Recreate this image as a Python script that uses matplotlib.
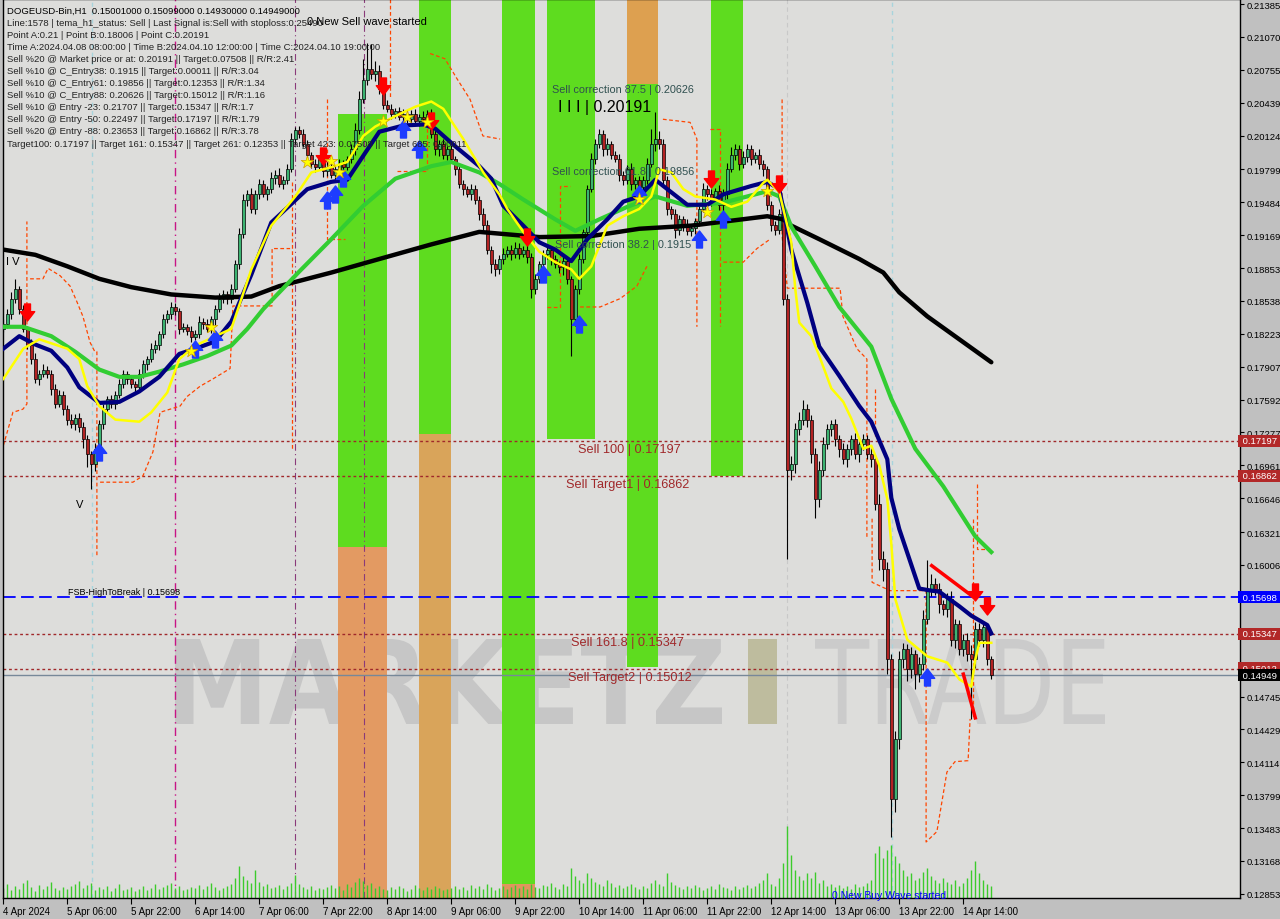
import numpy as np
import matplotlib.pyplot as plt
from matplotlib.collections import LineCollection
from matplotlib.textpath import TextPath
from matplotlib.patches import PathPatch
from matplotlib.font_manager import FontProperties
from matplotlib.transforms import Affine2D
from matplotlib.path import Path

# ---- hourly closes, DOGEUSD H1, from 4 Apr 14:00 (16 bars per row)
closes = np.array([
    .1832, .1841, .1856, .1865, .1846, .1827, .1812, .1798, .1779, .1784, .1788, .1784, .1769, .1755, .1764, .1750,
    .1740, .1736, .1742, .1733, .1721, .1707, .1697, .1712, .1736, .1750, .1760, .1755, .1764, .1774, .1784, .1779,
    .1774, .1771, .1784, .1793, .1798, .1808, .1812, .1822, .1836, .1841, .1848, .1844, .1827, .1829, .1825, .1819,
    .1822, .1834, .1832, .1827, .1836, .1846, .1856, .1860, .1856, .1865, .1889, .1918, .1951, .1956, .1942, .1956,
    .1966, .1956, .1961, .1972, .1975, .1966, .1970, .1980, .2009, .2018, .2014, .2004, .1994, .1985, .1982, .1990,
    .1978, .1982, .1975, .1980, .1985, .1982, .1990, .1999, .2018, .2047, .2066, .2076, .2071, .2074, .2057, .2042,
    .2038, .2033, .2036, .2030, .2033, .2028, .2033, .2026, .2030, .2028, .2033, .2014, .1999, .2004, .1994, .1999,
    .1990, .1980, .1966, .1961, .1956, .1961, .1951, .1937, .1927, .1903, .1889, .1884, .1894, .1899, .1903, .1899,
    .1905, .1899, .1903, .1896, .1865, .1875, .1889, .1899, .1903, .1894, .1889, .1886, .1892, .1875, .1836, .1865,
    .1894, .1920, .1961, .1990, .2004, .2014, .1999, .2004, .1994, .1990, .1975, .1970, .1980, .1966, .1970, .1963,
    .1970, .1985, .2004, .2009, .2004, .1970, .1942, .1937, .1922, .1932, .1927, .1921, .1924, .1930, .1942, .1961,
    .1956, .1951, .1959, .1946, .1956, .1980, .1994, .1999, .1985, .1992, .1999, .1990, .1994, .1985, .1980, .1946,
    .1927, .1922, .1937, .1856, .1692, .1697, .1731, .1740, .1750, .1740, .1707, .1664, .1692, .1717, .1731, .1736,
    .1721, .1712, .1702, .1712, .1721, .1707, .1717, .1721, .1707, .1702, .1659, .1606, .1597, .1510, .1376, .1434,
    .1510, .1520, .1501, .1515, .1496, .1506, .1549, .1578, .1582, .1578, .1563, .1558, .1568, .1529, .1544, .1520,
    .1529, .1515, .1510, .1539, .1529, .1541, .1510, .1495,
])
first_open = 0.1827

# wicks above / below the body, in 0.0001
upper_wick = np.array([
    4, 5, 6, 10, 3, 4, 3, 5, 6, 4, 5, 3, 4, 5, 4, 3,
    4, 5, 3, 4, 5, 4, 3, 6, 4, 5, 3, 4, 3, 5, 4, 3,
    4, 3, 5, 4, 3, 5, 4, 3, 5, 4, 5, 4, 3, 4, 3, 5,
    4, 5, 3, 4, 3, 4, 5, 4, 3, 5, 4, 6, 5, 4, 6, 4,
    5, 4, 3, 5, 4, 6, 4, 5, 6, 3, 4, 5, 4, 3, 5, 4,
    3, 5, 4, 3, 5, 4, 3, 5, 6, 8, 20, 25, 24, 10, 6, 5,
    4, 5, 3, 4, 5, 3, 4, 5, 3, 6, 4, 5, 6, 4, 5, 3,
    4, 3, 5, 4, 3, 5, 4, 3, 6, 4, 3, 5, 4, 6, 3, 4,
    5, 4, 3, 6, 4, 5, 3, 4, 5, 3, 4, 3, 5, 4, 3, 4,
    5, 3, 4, 6, 5, 5, 4, 6, 3, 4, 5, 3, 4, 6, 3, 4,
    4, 6, 15, 26, 8, 5, 4, 3, 5, 4, 3, 5, 4, 3, 5, 6,
    4, 5, 3, 6, 5, 6, 7, 5, 4, 6, 5, 4, 3, 5, 4, 3,
    4, 3, 5, 6, 4, 8, 6, 7, 9, 5, 4, 6, 8, 6, 5, 4,
    5, 4, 6, 5, 4, 6, 3, 5, 4, 6, 4, 10, 8, 6, 5, 7,
    8, 6, 5, 7, 4, 6, 8, 27, 10, 6, 5, 4, 6, 8, 5, 4,
    5, 6, 9, 7, 6, 5, 4, 3,
]) * 1e-4
lower_wick = np.array([
    3, 4, 5, 4, 5, 3, 4, 5, 4, 6, 3, 4, 5, 4, 3, 6,
    5, 4, 6, 5, 8, 12, 24, 6, 4, 5, 3, 4, 5, 3, 4, 5,
    4, 5, 3, 4, 5, 3, 4, 5, 4, 3, 5, 4, 5, 3, 4, 5,
    3, 4, 5, 3, 4, 5, 3, 4, 5, 4, 3, 5, 4, 6, 4, 5,
    4, 3, 5, 4, 6, 3, 5, 4, 3, 5, 4, 3, 6, 4, 5, 3,
    5, 4, 3, 5, 4, 6, 3, 4, 5, 4, 3, 5, 4, 6, 5, 4,
    3, 5, 4, 3, 5, 4, 6, 3, 4, 5, 3, 4, 5, 6, 4, 5,
    3, 5, 4, 6, 3, 5, 4, 6, 5, 4, 8, 6, 4, 5, 3, 6,
    4, 5, 3, 6, 8, 5, 4, 3, 5, 6, 4, 5, 7, 5, 35, 6,
    5, 4, 6, 3, 5, 4, 6, 5, 4, 3, 6, 5, 4, 6, 5, 4,
    5, 4, 3, 6, 5, 4, 6, 5, 8, 5, 6, 4, 5, 6, 4, 3,
    5, 6, 4, 5, 6, 4, 3, 5, 6, 4, 5, 6, 4, 5, 6, 5,
    6, 5, 4, 6, 86, 10, 8, 6, 5, 7, 9, 18, 8, 6, 5, 7,
    6, 8, 5, 7, 6, 5, 8, 6, 5, 7, 6, 10, 12, 14, 36, 12,
    10, 8, 12, 9, 14, 8, 6, 5, 7, 6, 8, 5, 7, 6, 8, 6,
    7, 6, 57, 8, 6, 7, 5, 4,
]) * 1e-4

# tick volume (hundreds)
volumes = np.array([
    10, 14, 8, 12, 9, 15, 18, 11, 7, 13, 9, 12, 16, 10, 8, 11,
    9, 12, 14, 17, 10, 13, 15, 8, 11, 9, 12, 7, 10, 14, 8, 9,
    11, 7, 9, 12, 8, 10, 14, 9, 11, 13, 15, 10, 12, 8, 9, 11,
    10, 13, 9, 12, 15, 11, 8, 10, 12, 14, 20, 32, 22, 18, 15, 28,
    16, 12, 14, 10, 11, 13, 9, 12, 15, 23, 14, 11, 9, 12, 8, 10,
    9, 11, 13, 10, 12, 8, 14, 11, 16, 20, 17, 13, 15, 10, 12, 9,
    8, 11, 9, 12, 10, 7, 9, 13, 10, 8, 11, 9, 12, 10, 8, 9,
    10, 12, 9, 11, 8, 13, 10, 12, 9, 14, 11, 8, 10, 12, 9, 11,
    13, 10, 12, 9, 14, 11, 10, 13, 12, 15, 11, 9, 14, 12, 30, 22,
    18, 15, 25, 20, 16, 14, 12, 18, 15, 11, 13, 10, 12, 14, 11, 9,
    12, 10, 15, 18, 14, 12, 25, 16, 13, 11, 9, 12, 10, 13, 11, 8,
    10, 12, 9, 14, 11, 10, 8, 12, 9, 11, 13, 10, 12, 15, 18, 25,
    14, 12, 20, 35, 72, 43, 28, 22, 18, 25, 20, 26, 15, 18, 12, 14,
    11, 13, 10, 12, 9, 14, 11, 12, 15, 18, 45, 52, 40, 48, 53, 42,
    35, 28, 22, 25, 18, 20, 26, 30, 22, 18, 15, 20, 16, 14, 18, 12,
    15, 20, 28, 37, 25, 18, 14, 12,
])

# moving averages read at some bars
ma200_bars = [0, 8, 16, 24, 32, 42, 53, 62, 69, 82, 94, 107, 119, 134, 147, 159, 172, 191, 195, 197,
              204, 214, 220, 224, 231, 239, 247]
ma200 = [.1903, .1898, .1887, .1875, .1867, .1860, .1857, .1858, .1868, .1881, .1894, .1908, .1920, .1915,
         .1916, .1923, .1926, .1935, .1932, .1926, .1913, .1894, .1881, .1862, .1839, .1817, .1795]
ma50_bars = [0, 5, 12, 18, 24, 29, 34, 39, 45, 51, 57, 61, 65, 74, 82, 90, 98, 107, 112, 119,
             124, 130, 138, 143, 149, 156, 163, 171, 180, 191, 194, 197, 203, 209, 217, 222, 228, 235, 243, 247]
ma50 = [.1829, .1829, .1820, .1805, .1788, .1781, .1781, .1786, .1793, .1801, .1811, .1827, .1846, .1882,
        .1913, .1945, .1971, .1983, .1987, .1977, .1966, .1951, .1932, .1921, .1932, .1944, .1954, .1945,
        .1948, .1959, .1954, .1925, .1887, .1848, .1810, .1760, .1712, .1676, .1628, .1613]
ma21_bars = [0, 4, 8, 12, 16, 19, 24, 29, 34, 39, 44, 48, 53, 57, 58, 62, 67, 76, 82, 86,
             90, 94, 100, 105, 108, 113, 119, 122, 125, 130, 134, 138, 142, 146, 151, 155, 159, 163, 167, 171,
             176, 180, 187, 191, 194, 197, 201, 204, 209, 214, 217, 221, 222, 224, 229, 232, 234, 239, 242, 246, 247]
ma21 = [.1808, .1820, .1812, .1806, .1790, .1771, .1756, .1757, .1767, .1781, .1803, .1808, .1815, .1834,
        .1843, .1879, .1929, .1961, .1968, .1970, .1993, .2016, .2022, .2023, .2019, .2002, .1983, .1971,
        .1945, .1926, .1910, .1903, .1892, .1913, .1932, .1949, .1954, .1970, .1958, .1946, .1946, .1956,
        .1964, .1968, .1961, .1903, .1852, .1810, .1782, .1753, .1738, .1702, .1665, .1635, .1578, .1576,
        .1575, .1561, .1552, .1543, .1535]
tema_bars = [0, 5, 9, 16, 19, 21, 24, 28, 34, 37, 41, 44, 48, 53, 57, 62, 67, 73, 77, 82,
             86, 90, 93, 98, 103, 107, 110, 115, 120, 124, 126, 130, 134, 138, 142, 144, 147, 151, 155, 159,
             162, 164, 167, 170, 173, 178, 182, 186, 190, 191, 194, 197, 198, 199, 202, 204, 207, 210, 212, 215,
             217, 219, 221, 222, 223, 226, 231, 236, 239, 242, 243, 244, 247]
tema = [.1779, .1808, .1817, .1808, .1798, .1772, .1753, .1740, .1738, .1747, .1766, .1798, .1811, .1820,
        .1827, .1884, .1926, .1954, .1977, .1982, .1987, .2012, .2021, .2031, .2040, .2045, .2038, .2009,
        .1977, .1956, .1942, .1920, .1901, .1891, .1884, .1875, .1887, .1926, .1935, .1942, .1954, .1980,
        .1977, .1961, .1954, .1951, .1944, .1949, .1967, .1970, .1958, .1910, .1865, .1833, .1820, .1801,
        .1770, .1757, .1741, .1712, .1715, .1696, .1664, .1621, .1568, .1529, .1513, .1507, .1491, .1484,
        .1510, .1526, .1526]

# stop / envelope step lines (dashed orange), one pair of lists per piece
stop_bars = [
    [0, 2.4, 4.9, 5.9, 5.9],
    [6.7, 9.9, 11.2, 14.2, 16.7, 18.4, 19.9, 21.7, 22.9, 23.4, 23.4],
    [24.2, 32.4, 34.9, 37.4, 39.2, 44.2, 45.9, 49.2, 52.4, 56.7, 57.4, 67.2, 67.2, 71.7],
    [72.2, 72.2],
    [80.9, 80.9, 85.4],
    [96.7, 96.7],
    [106.7, 110.4, 113.4, 116.7, 119.9, 124.2],
    [98.4, 105.9, 105.9],
    [135.9, 139.2, 139.2, 141.7],
    [144.2, 149.2, 154.2, 158.4, 160.9],
    [164.9, 171.7, 173.4, 173.4],
    [176.7, 179.2, 179.2],
    [180.0, 185.0, 188.4, 191.7],
    [194.7, 194.7, 196.0, 209.2, 209.9, 213.4, 215.9, 215.9],
    [217.9, 217.9],
    [217.2, 217.2, 221.7, 230.7, 230.7, 233.4, 235.9, 237.9, 241.2, 241.7],
    [242.4, 242.4],
    [243.4, 243.4, 246.7],
]
stop_prices = [
    [.1715, .1747, .1750, .1755, .1930],
    [.1875, .1875, .1885, .1878, .1868, .1853, .1839, .1814, .1805, .1805, .1609],
    [.1680, .1680, .1686, .1709, .1747, .1753, .1762, .1772, .1779, .1789, .1849, .1849, .1904, .1904],
    [.1968, .1712],
    [.2047, .1913, .1913],
    [.2150, .2047],
    [.2091, .2086, .2067, .2047, .2012, .2009],
    [.1978, .1978, .2028],
    [.1848, .1848, .1964, .1964],
    [.1848, .1848, .1856, .1868, .1887],
    [.2028, .2025, .2009, .1829],
    [.2019, .2019, .1830],
    [.1891, .1891, .1904, .1913],
    [.2047, .1916, .1866, .1866, .1839, .1808, .1798, .1626],
    [.1769, .1724],
    [.1645, .1584, .1576, .1576, .1335, .1345, .1402, .1412, .1413, .1453],
    [.1645, .1453],
    [.1678, .1616, .1616],
]

# signals
sell_bars = [6, 80, 95, 107, 131, 177, 194, 243, 246]
sell_prices = [.1843, .1993, .2060, .2026, .1915, .1971, .1966, .1575, .1561]
buy_bars = [24, 48, 53, 81, 83, 85, 100, 104, 135, 144, 159, 174, 180, 231]
buy_prices = [.1709, .1808, .1817, .1951, .1956, .1972, .2019, .1999, .1880, .1832, .1956, .1913, .1932, .1493]
star_bars = [47, 52, 76, 82, 84, 95, 101, 106, 159, 176, 191]
star_prices = [.1806, .1829, .1987, .1988, .1977, .2026, .2030, .2025, .1952, .1939, .1959]
trend_a_bars, trend_a = [232.1, 242.5], [.1600, .1570]
trend_b_bars, trend_b = [240.0, 243.0], [.1496, .1454]

# zones (bar from, bar to, price low, price high, colour)
zone_from = [83.7, 83.7, 103.9, 103.9, 124.7, 124.7, 135.9, 155.9, 155.9, 176.9]
zone_to = [95.9, 95.9, 111.9, 111.9, 132.9, 132.9, 147.9, 163.7, 163.7, 184.9]
zone_low = [.1618, .1200, .1726, .1200, .1295, .1200, .1721, .2062, .1503, .1686]
zone_high = [.2033, .1618, .2200, .1726, .2200, .1295, .2200, .2200, .2062, .2200]
zone_col = ['#5EDC1F', '#E39A62', '#5EDC1F', '#D9A45A', '#5EDC1F', '#E0955E', '#5EDC1F', '#DDA050',
            '#5EDC1F', '#5EDC1F']

time_labels = ["4 Apr 2024", "5 Apr 06:00", "5 Apr 22:00", "6 Apr 14:00", "7 Apr 06:00", "7 Apr 22:00",
               "8 Apr 14:00", "9 Apr 06:00", "9 Apr 22:00", "10 Apr 14:00", "11 Apr 06:00", "11 Apr 22:00",
               "12 Apr 14:00", "13 Apr 06:00", "13 Apr 22:00", "14 Apr 14:00"]
price_ticks = [0.21385, 0.21070, 0.20755, 0.20439, 0.20124, 0.19799, 0.19484, 0.19169, 0.18853, 0.18538,
               0.18223, 0.17907, 0.17592, 0.17277, 0.16961, 0.16646, 0.16321, 0.16006,
               0.15060, 0.14745, 0.14429, 0.14114, 0.13799, 0.13483, 0.13168, 0.12853]

info_lines = [
    "DOGEUSD-Bin,H1  0.15001000 0.15099000 0.14930000 0.14949000",
    "Line:1578 | tema_h1_status: Sell | Last Signal is:Sell with stoploss:0.25490",
    "Point A:0.21 | Point B:0.18006 | Point C:0.20191",
    "Time A:2024.04.08 08:00:00 | Time B:2024.04.10 12:00:00 | Time C:2024.04.10 19:00:00",
    "Sell %20 @ Market price or at: 0.20191 || Target:0.07508 || R/R:2.41",
    "Sell %10 @ C_Entry38: 0.1915 || Target:0.00011 || R/R:3.04",
    "Sell %10 @ C_Entry61: 0.19856 || Target:0.12353 || R/R:1.34",
    "Sell %10 @ C_Entry88: 0.20626 || Target:0.15012 || R/R:1.16",
    "Sell %10 @ Entry -23: 0.21707 || Target:0.15347 || R/R:1.7",
    "Sell %20 @ Entry -50: 0.22497 || Target:0.17197 || R/R:1.79",
    "Sell %20 @ Entry -88: 0.23653 || Target:0.16862 || R/R:3.78",
    "Target100: 0.17197 || Target 161: 0.15347 || Target 261: 0.12353 || Target 423: 0.07508 || Target 685: 0.00011",
]

# ------------------------------------------------------------------
opens = np.r_[first_open, closes[:-1]]
highs = np.maximum(opens, closes) + upper_wick
lows = np.minimum(opens, closes) - lower_wick
bars = np.arange(len(closes))

W, H = 1280, 920
fig = plt.figure(figsize=(W / 100, H / 100), dpi=100, facecolor='#C0C0C0')
ax = fig.add_axes([3 / W, 21 / H, 1237 / W, 899 / H])
ax.set_facecolor('#DDDDDB')
ax.set_xlim(-0.075, 309.175)
ax.set_ylim(0.12813, 0.21433)

# pixel helpers for placing annotations
px_i = lambda x: (x - 3.3) / 4
px_p = lambda y: 0.21433 - y / 10430
fx = lambda x: (x - 3) / 1237
fy = lambda y: 1 - y / 899

sans = ['Liberation Sans', 'DejaVu Sans']

# watermark
def watermark(txt, box, color, weight):
    fp = FontProperties(family='DejaVu Sans', weight=weight)
    tp = TextPath((0, 0), txt, prop=fp, size=1)
    ext = tp.get_extents()
    x0, y0, x1, y1 = box
    sx = (fx(x1) - fx(x0)) / ext.width
    sy = (fy(y0) - fy(y1)) / ext.height
    tr = Affine2D().translate(-ext.x0, -ext.y0).scale(sx, sy).translate(fx(x0), fy(y1)) + ax.transAxes
    ax.add_patch(PathPatch(tp, transform=tr, fc=color, ec='none', zorder=0.6))

watermark("MARKETZ", (175, 640, 722, 725), '#C6C6C6', 'bold')
watermark("I", (748, 640, 777, 725), '#BEBC9E', 'bold')
watermark("TRADE", (815, 640, 1105, 725), '#CBCBCB', 'normal')

# zones
for s, e, lo, hi, c in zip(zone_from, zone_to, zone_low, zone_high, zone_col):
    ax.bar((s + e) / 2, hi - lo, width=e - s, bottom=lo, color=c, linewidth=0, zorder=1)

# vertical markers
ax.axvline(px_i(92), color='#A8D4DC', lw=1, ls=(0, (3, 3)), zorder=1.5)
ax.axvline(px_i(175), color='#C71585', lw=1, ls=(0, (6, 3, 1, 3)), zorder=1.5)
ax.axvline(px_i(295), color='#8A3A7A', lw=0.8, ls=(0, (6, 3, 1, 3)), zorder=1.5)
ax.axvline(px_i(364), color='#8A3A7A', lw=0.8, ls=(0, (6, 3, 1, 3)), zorder=1.5)
ax.axvline(px_i(787), color='#C8C8C8', lw=0.8, ls=(0, (4, 3)), zorder=1.5)
ax.axvline(px_i(892), color='#A8D4DC', lw=1, ls=(0, (3, 3)), zorder=1.5)

# volume
segs = [[(b, 0), (b, v / 899)] for b, v in zip(bars, volumes)]
ax.add_collection(LineCollection(segs, colors='#3CCB2C', linewidths=1,
                                 transform=ax.get_xaxis_transform(), zorder=2))

# levels
for lvl in [0.17197, 0.16862, 0.15347, 0.15012]:
    ax.axhline(lvl, color='#A0282A', lw=1, ls=(0, (2, 2)), zorder=2.2)
ax.axhline(0.15698, color='#0000FF', lw=1.3, ls=(0, (7, 3)), zorder=2.2)
ax.axhline(0.14949, color='#778899', lw=1, zorder=2.2)

# stop lines
for sb, sp in zip(stop_bars, stop_prices):
    ax.plot(sb, sp, color='#FF4500', lw=0.9, ls=(0, (3, 2)), zorder=2.5)

# candles
up = closes >= opens
ax.vlines(bars, lows, highs, color='black', lw=0.8, zorder=3)
ax.bar(bars, np.maximum(np.abs(closes - opens), 0.00006), width=0.62, bottom=np.minimum(opens, closes),
       color=np.where(up, '#3CB371', '#B22222'), edgecolor='black', linewidth=0.5, zorder=3.1)

# averages
ax.plot(ma200_bars, ma200, color='black', lw=3.2, zorder=4, solid_capstyle='round')
ax.plot(ma50_bars, ma50, color='#32CD32', lw=3, zorder=4.1)
ax.plot(ma21_bars, ma21, color='#000080', lw=3, zorder=4.2)
ax.plot(tema_bars, tema, color='#FFFF00', lw=1.8, zorder=4.3)
ax.plot(trend_a_bars, trend_a, color='#FF0000', lw=2.5, zorder=4.4)
ax.plot(trend_b_bars, trend_b, color='#FF0000', lw=2.5, zorder=4.4)

# arrows / stars
down_arrow = Path([(-0.35, 1), (0.35, 1), (0.35, 0.1), (0.85, 0.1), (0, -1), (-0.85, 0.1), (-0.35, 0.1), (-0.35, 1)],
                  closed=True)
up_arrow = Path([(x, -y) for x, y in down_arrow.vertices], closed=True)
ax.scatter(sell_bars, sell_prices, marker=down_arrow, s=150, color='#FF0000', zorder=5)
ax.scatter(buy_bars, buy_prices, marker=up_arrow, s=150, color='#1E3CFF', zorder=5)
ax.scatter(star_bars, star_prices, marker='*', s=90, color='#FFFF00', edgecolor='#D0A000', lw=0.5, zorder=5)

# texts
for k, line in enumerate(info_lines):
    ax.text(fx(7), fy(11 + 12.1 * k), line, transform=ax.transAxes, fontsize=6.8, family=sans,
            va='center', ha='left', color='black' if k == 0 else '#222222', zorder=6)
ax.text(fx(307), fy(22), "0 New Sell wave started", transform=ax.transAxes, fontsize=8, family=sans,
        va='center', color='black', zorder=6)
ax.text(fx(832), fy(896), "0 New Buy Wave started", transform=ax.transAxes, fontsize=7.5, family=sans,
        va='center', color='#0000FF', zorder=6)

level_texts = [("Sell 100 | 0.17197", 578, 450), ("Sell Target1 | 0.16862", 566, 485),
               ("Sell 161.8 | 0.15347", 571, 643), ("Sell Target2 | 0.15012", 568, 678)]
for t, x, y in level_texts:
    ax.text(px_i(x), px_p(y), t, fontsize=9.2, family=sans, color='#A0282A', va='center', zorder=6)
corr_texts = [("Sell correction 87.5 | 0.20626", 552, 90), ("Sell correction 61.8 | 0.19856", 552, 172),
              ("Sell correction 38.2 | 0.1915", 555, 245)]
for t, x, y in corr_texts:
    ax.text(px_i(x), px_p(y), t, fontsize=7.8, family=sans, color='#2F4F4F', va='center', zorder=6)
ax.text(px_i(558), px_p(108), "I I I | 0.20191", fontsize=11.5, family=sans, color='black', va='center', zorder=6)
ax.text(px_i(68), px_p(593), "FSB-HighToBreak | 0.15698", fontsize=6.5, family=sans, color='black',
        va='center', zorder=6)
ax.text(px_i(76), px_p(505), "V", fontsize=8, family=sans, color='black', va='center', zorder=6)
ax.text(px_i(6), px_p(262), "I V", fontsize=8, family=sans, color='black', va='center', zorder=6)

# axes styling
for sp in ax.spines.values():
    sp.set_color('black')
    sp.set_linewidth(1)
ax.yaxis.tick_right()
ax.set_yticks(price_ticks)
ax.set_yticklabels([f"{v:.5f}" for v in price_ticks])
ax.tick_params(axis='y', direction='out', length=3, pad=2, labelsize=6.8, colors='black')
ax.set_xticks(np.arange(0, 241, 16))
ax.set_xticklabels(time_labels)
ax.tick_params(axis='x', direction='out', length=4, pad=2, labelsize=7)
for lab in ax.get_xticklabels() + ax.get_yticklabels():
    lab.set_family(sans)
for lab in ax.get_xticklabels():
    lab.set_ha('left')

# price tags on the right
tags = [("0.17197", 0.17197, '#B22828'), ("0.16862", 0.16862, '#B22828'), ("0.15698", 0.15698, '#0000FF'),
        ("0.15347", 0.15347, '#B22828'), ("0.15012", 0.15012, '#B22828'), ("0.14949", 0.14949, '#000000')]
for t, p, c in tags:
    ax.text(1.0, p, " " + t + "  ", transform=ax.get_yaxis_transform(), fontsize=6.8, family=sans,
            color='white', va='center', ha='left', clip_on=False, zorder=7,
            bbox=dict(boxstyle='square,pad=0.18', fc=c, ec='none'))

fig.savefig('out.png', dpi=100, facecolor=fig.get_facecolor())
